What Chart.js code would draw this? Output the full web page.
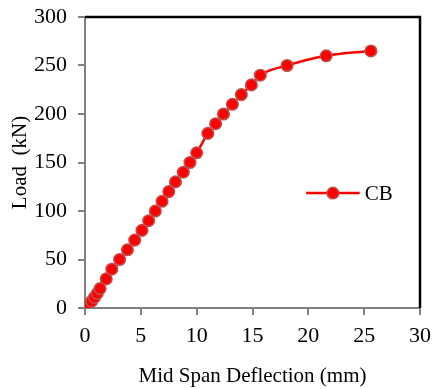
<!DOCTYPE html>
<html>
<head>
<meta charset="utf-8">
<script src="https://cdn.jsdelivr.net/npm/chart.js@4/dist/chart.umd.min.js"></script>
<style>
    html, body { margin: 0; padding: 0; background: #fff; }
    #wrap { width: 433px; height: 389px; position: relative; }
</style>
</head>
<body>
<div id="wrap"><canvas id="loadChart"></canvas></div>
<script>
// mid span deflection (mm) vs load (kN)
const deflection = [0, 0.35, 0.6, 0.85, 1.1, 1.35, 1.9, 2.4, 3.1, 3.8, 4.45, 5.1, 5.7, 6.3, 6.9, 7.5,
    8.1, 8.8, 9.4, 10.0, 11.0, 11.7, 12.4, 13.2, 14.0, 14.9, 15.7, 18.1, 21.6, 25.6];
const load = [0, 4, 7, 11, 15, 20, 30, 40, 50, 60, 70, 80, 90, 100, 110, 120,
    130, 140, 150, 160, 180, 190, 200, 210, 220, 230, 240, 250, 260, 265];
const seriesName = 'CB';
const xTitle = 'Mid Span Deflection (mm)';
const yTitle = 'Load  (kN)';

const serif = 'Liberation Serif';
const axisGrey = '#808080';

// top + right frame lines are black, left/bottom are grey
const frameLines = {
    id: 'frameLines',
    afterDraw(chart) {
        const { ctx, chartArea: a } = chart;
        ctx.save();
        ctx.strokeStyle = '#000';
        ctx.lineWidth = 2.5;
        ctx.beginPath();
        ctx.moveTo(a.left, a.top);
        ctx.lineTo(a.right, a.top);
        ctx.lineTo(a.right, a.bottom);
        ctx.stroke();
        ctx.restore();
    }
};

// legend sits inside the plot area
const insideLegend = {
    id: 'insideLegend',
    afterDraw(chart) {
        const { ctx, chartArea: a } = chart;
        const x0 = a.left + a.width * 0.66;
        const x1 = a.left + a.width * 0.82;
        const y = a.top + a.height * 0.605;
        ctx.save();
        ctx.strokeStyle = '#FF0000';
        ctx.lineWidth = 2.5;
        ctx.beginPath();
        ctx.moveTo(x0, y);
        ctx.lineTo(x1, y);
        ctx.stroke();
        ctx.beginPath();
        ctx.arc((x0 + x1) / 2, y, 5.8, 0, Math.PI * 2);
        ctx.fillStyle = '#FF0000';
        ctx.fill();
        ctx.strokeStyle = '#C0504D';
        ctx.lineWidth = 1.5;
        ctx.stroke();
        ctx.fillStyle = '#000';
        ctx.font = '21px "' + serif + '"';
        ctx.textBaseline = 'middle';
        ctx.fillText(seriesName, x1 + 5, y + 1);
        ctx.restore();
    }
};

const ctx = document.getElementById('loadChart').getContext('2d');

new Chart(ctx, {
    type: 'line',
    data: {
        datasets: [{
            label: seriesName,
            data: deflection.map((d, i) => ({ x: d, y: load[i] })),
            borderColor: '#FF0000',
            borderWidth: 2.5,
            backgroundColor: '#FF0000',
            pointBackgroundColor: '#FF0000',
            pointBorderColor: '#C0504D',
            pointBorderWidth: 1.5,
            pointRadius: 5.8,
            cubicInterpolationMode: 'monotone',
            fill: false
        }]
    },
    options: {
        responsive: true,
        maintainAspectRatio: false,
        animation: false,
        layout: {
            padding: { top: 17, right: 13, left: 0, bottom: 0 }
        },
        plugins: {
            legend: { display: false },
            tooltip: { enabled: false }
        },
        scales: {
            x: {
                type: 'linear',
                min: 0,
                max: 30,
                afterFit: (scale) => {
                    scale.height = 81;
                    scale.paddingLeft = 0;
                    scale.paddingRight = 0;
                },
                ticks: {
                    stepSize: 5,
                    color: '#000',
                    padding: 8,
                    font: { family: serif, size: 22 }
                },
                grid: {
                    drawOnChartArea: false,
                    drawTicks: true,
                    tickLength: 7,
                    color: axisGrey,
                    lineWidth: 2
                },
                border: { color: axisGrey, width: 2 },
                title: {
                    display: true,
                    text: xTitle,
                    color: '#000',
                    padding: 0,
                    font: { family: serif, size: 21 }
                }
            },
            y: {
                min: 0,
                max: 300,
                afterFit: (scale) => {
                    scale.width = 85;
                    scale.paddingTop = 0;
                    scale.paddingBottom = 0;
                },
                ticks: {
                    stepSize: 50,
                    color: '#000',
                    padding: 11,
                    font: { family: serif, size: 22 }
                },
                grid: {
                    drawOnChartArea: false,
                    drawTicks: true,
                    tickLength: 7,
                    color: axisGrey,
                    lineWidth: 2
                },
                border: { color: axisGrey, width: 2 },
                title: {
                    display: true,
                    text: yTitle,
                    color: '#000',
                    padding: { top: 8, bottom: 0 },
                    font: { family: serif, size: 21 }
                }
            }
        }
    },
    plugins: [frameLines, insideLegend]
});
</script>
</body>
</html>
